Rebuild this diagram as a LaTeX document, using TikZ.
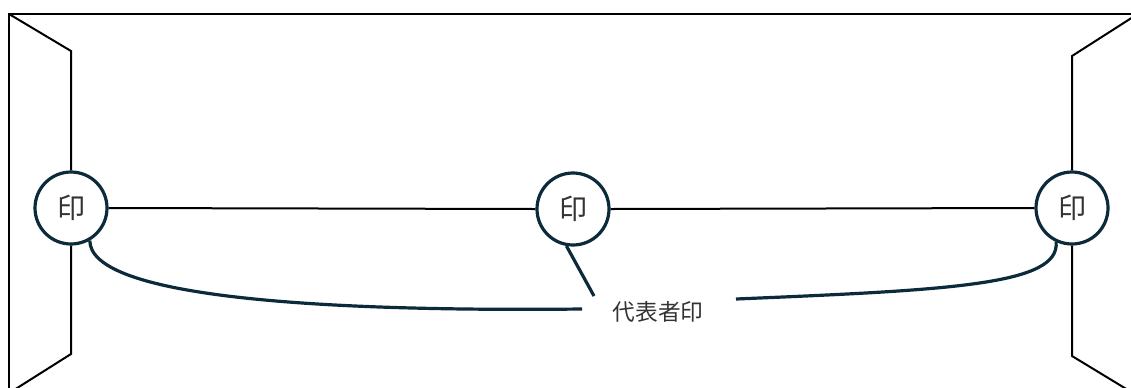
\documentclass[tikz,border=0pt]{standalone}
\usepackage{fontspec}
\newfontfamily\cjk{Noto Sans CJK JP}
\definecolor{navy}{HTML}{0B2A3A}
\definecolor{txt}{HTML}{333333}
\begin{document}
\begin{tikzpicture}[x=0.75pt,y=-0.75pt,
  seal/.style={circle,draw=navy,line width=2.4pt,fill=white,minimum size=54pt,inner sep=0pt,font=\cjk\fontsize{21}{21}\selectfont,text=txt},
  thin/.style={line width=1.5pt,black},
  lead/.style={line width=2.4pt,navy}]
\useasboundingbox (0,0) rectangle (1131,387);
% frame
\coordinate (tl) at (9,14);
\coordinate (bl) at (9,390);
\coordinate (tr) at (1134,14);
\draw[thin] (bl) -- (tl) -- (tr);
% seals
\node[seal] (L) at (71,208) {印};
\node[seal] (M) at (573,209) {印};
\node[seal] (R) at (1072,208) {印};
% left panel
\coordinate (lt) at (71,51);
\coordinate (lb) at (71,354);
\coordinate (ltc) at (9,14);
\coordinate (lbc) at (14,390);
\draw[thin] (ltc) -- (lt) -- (L.north);
\draw[thin] (L.south) -- (lb) -- (lbc);
% right panel
\coordinate (rt) at (1072,56);
\coordinate (rb) at (1072,356);
\coordinate (rtc) at (1133,17);
\coordinate (rbc) at (1128,390);
\draw[thin] (rtc) -- (rt) -- (R.north);
\draw[thin] (R.south) -- (rb) -- (rbc);
% connecting line
\draw[thin] (L.east) -- (M.west);
\draw[thin] (M.east) -- (R.west);
% label and leaders
\node[font=\cjk\fontsize{17}{17}\selectfont,text=txt] (lab) at (658,312) {代表者印};
\coordinate (le) at (582,309);
\coordinate (me) at (594,296);
\coordinate (re) at (736,299);
\draw[lead] (L.-60) .. controls (90,295) and (300,312) .. (le);
\draw[lead] (M.-100) -- (me);
\draw[lead] (R.-115) .. controls (1060,285) and (950,290) .. (re);
\end{tikzpicture}
\end{document}
